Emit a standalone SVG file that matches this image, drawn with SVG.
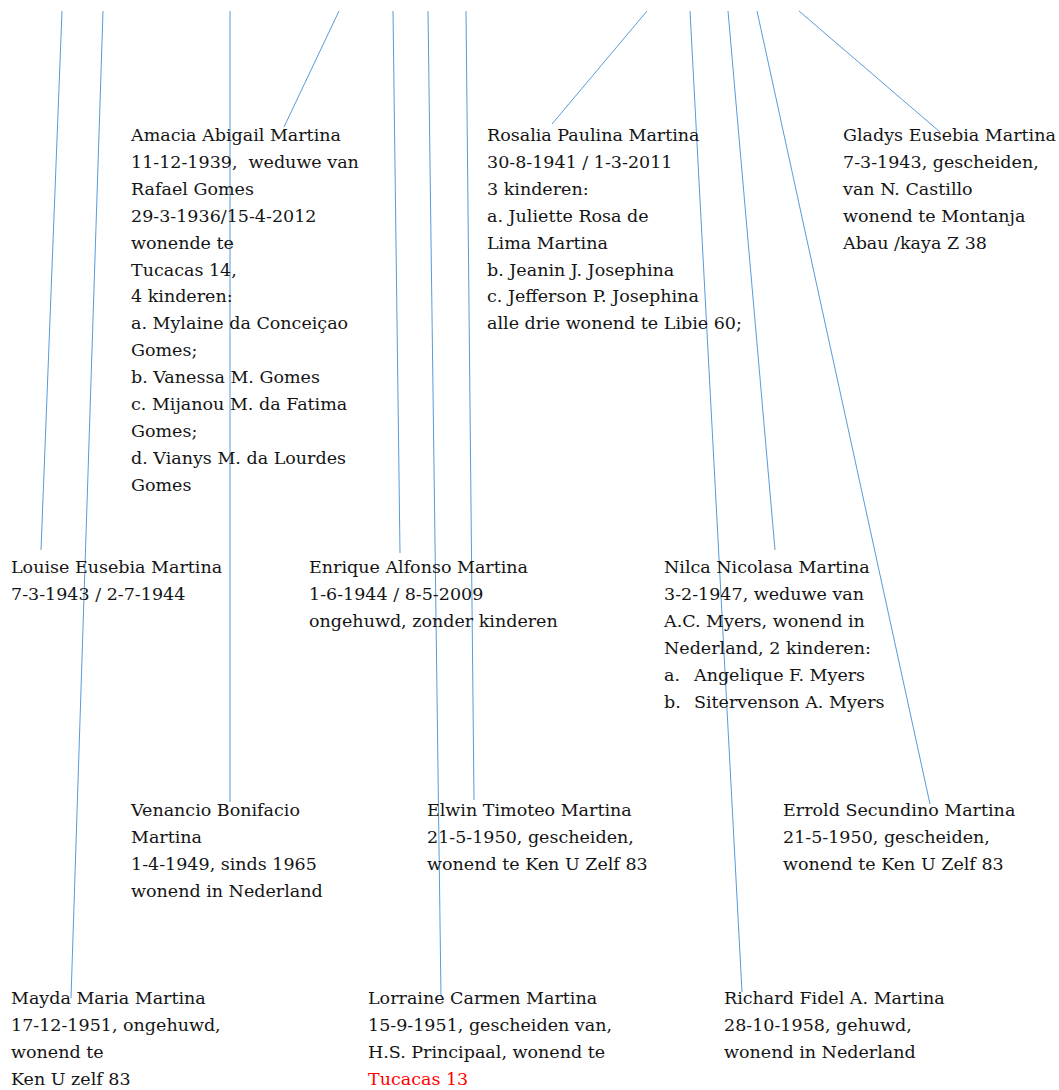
<svg xmlns="http://www.w3.org/2000/svg" width="1059" height="1090" viewBox="0 0 1059 1090">
<style>
.t{font-family:"DejaVu Serif","Liberation Serif",serif;font-size:17.5px;fill:#141414}
.r{fill:#ff0000}
.c line{stroke:#5b9bd5;stroke-width:1;fill:none}
</style>
<rect width="1059" height="1090" fill="#fff"/>
<g id="connectors" class="c">
<line x1="62" y1="11" x2="41" y2="550"/>
<line x1="103" y1="11" x2="71" y2="998"/>
<line x1="230" y1="11" x2="230" y2="802"/>
<line x1="339" y1="11" x2="284" y2="127"/>
<line x1="393" y1="11" x2="400" y2="553"/>
<line x1="428" y1="11" x2="441" y2="997"/>
<line x1="466" y1="11" x2="474" y2="800"/>
<line x1="647" y1="11" x2="552" y2="124"/>
<line x1="690" y1="11" x2="742" y2="992"/>
<line x1="728" y1="11" x2="775" y2="550"/>
<line x1="757" y1="11" x2="930" y2="804"/>
<line x1="799" y1="11" x2="940" y2="132"/>
</g>
<g id="amacia"><text class="t" x="131" y="141" xml:space="preserve"><tspan x="131">Amacia Abigail Martina</tspan><tspan x="131" dy="26.9">11-12-1939,  weduwe van</tspan><tspan x="131" dy="26.9">Rafael Gomes</tspan><tspan x="131" dy="26.9">29-3-1936/15-4-2012</tspan><tspan x="131" dy="26.9">wonende te</tspan><tspan x="131" dy="26.9">Tucacas 14,</tspan><tspan x="131" dy="26.9">4 kinderen:</tspan><tspan x="131" dy="26.9">a. Mylaine da Conceiçao</tspan><tspan x="131" dy="26.9">Gomes;</tspan><tspan x="131" dy="26.9">b. Vanessa M. Gomes</tspan><tspan x="131" dy="26.9">c. Mijanou M. da Fatima</tspan><tspan x="131" dy="26.9">Gomes;</tspan><tspan x="131" dy="26.9">d. Vianys M. da Lourdes</tspan><tspan x="131" dy="26.9">Gomes</tspan></text></g>
<g id="rosalia"><text class="t" x="487" y="141"><tspan x="487">Rosalia Paulina Martina</tspan><tspan x="487" dy="26.9">30-8-1941 / 1-3-2011</tspan><tspan x="487" dy="26.9">3 kinderen:</tspan><tspan x="487" dy="26.9">a. Juliette Rosa de</tspan><tspan x="487" dy="26.9">Lima Martina</tspan><tspan x="487" dy="26.9">b. Jeanin J. Josephina</tspan><tspan x="487" dy="26.9">c. Jefferson P. Josephina</tspan><tspan x="487" dy="26.9">alle drie wonend te Libie 60;</tspan></text></g>
<g id="gladys"><text class="t" x="843" y="141"><tspan x="843">Gladys Eusebia Martina</tspan><tspan x="843" dy="26.9">7-3-1943, gescheiden,</tspan><tspan x="843" dy="26.9">van N. Castillo</tspan><tspan x="843" dy="26.9">wonend te Montanja</tspan><tspan x="843" dy="26.9">Abau /kaya Z 38</tspan></text></g>
<g id="louise"><text class="t" x="11" y="573"><tspan x="11">Louise Eusebia Martina</tspan><tspan x="11" dy="26.9">7-3-1943 / 2-7-1944</tspan></text></g>
<g id="enrique"><text class="t" x="309" y="573"><tspan x="309">Enrique Alfonso Martina</tspan><tspan x="309" dy="26.9">1-6-1944 / 8-5-2009</tspan><tspan x="309" dy="26.9">ongehuwd, zonder kinderen</tspan></text></g>
<g id="nilca"><text class="t" x="664" y="573"><tspan x="664">Nilca Nicolasa Martina</tspan><tspan x="664" dy="26.9">3-2-1947, weduwe van</tspan><tspan x="664" dy="26.9">A.C. Myers, wonend in</tspan><tspan x="664" dy="26.9">Nederland, 2 kinderen:</tspan><tspan x="664" dy="26.9">a.</tspan><tspan x="694">Angelique F. Myers</tspan><tspan x="664" dy="26.9">b.</tspan><tspan x="694">Sitervenson A. Myers</tspan></text></g>
<g id="venancio"><text class="t" x="131" y="816"><tspan x="131">Venancio Bonifacio</tspan><tspan x="131" dy="26.9">Martina</tspan><tspan x="131" dy="26.9">1-4-1949, sinds 1965</tspan><tspan x="131" dy="26.9">wonend in Nederland</tspan></text></g>
<g id="elwin"><text class="t" x="427" y="816"><tspan x="427">Elwin Timoteo Martina</tspan><tspan x="427" dy="26.9">21-5-1950, gescheiden,</tspan><tspan x="427" dy="26.9">wonend te Ken U Zelf 83</tspan></text></g>
<g id="errold"><text class="t" x="783" y="816"><tspan x="783">Errold Secundino Martina</tspan><tspan x="783" dy="26.9">21-5-1950, gescheiden,</tspan><tspan x="783" dy="26.9">wonend te Ken U Zelf 83</tspan></text></g>
<g id="mayda"><text class="t" x="11" y="1004"><tspan x="11">Mayda Maria Martina</tspan><tspan x="11" dy="26.9">17-12-1951, ongehuwd,</tspan><tspan x="11" dy="26.9">wonend te</tspan><tspan x="11" dy="26.9">Ken U zelf 83</tspan></text></g>
<g id="lorraine"><text class="t" x="368" y="1004"><tspan x="368">Lorraine Carmen Martina</tspan><tspan x="368" dy="26.9">15-9-1951, gescheiden van,</tspan><tspan x="368" dy="26.9">H.S. Principaal, wonend te</tspan><tspan x="368" dy="26.9" class="r">Tucacas 13</tspan></text></g>
<g id="richard"><text class="t" x="724" y="1004"><tspan x="724">Richard Fidel A. Martina</tspan><tspan x="724" dy="26.9">28-10-1958, gehuwd,</tspan><tspan x="724" dy="26.9">wonend in Nederland</tspan></text></g>
</svg>
